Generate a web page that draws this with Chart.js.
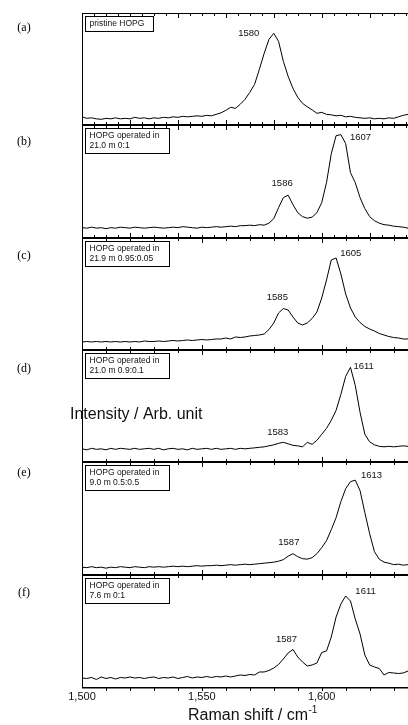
<!DOCTYPE html>
<html><head><meta charset="utf-8">
<style>html,body{margin:0;padding:0;background:#fff;overflow:hidden}canvas{display:block}</style>
<script src="https://cdn.jsdelivr.net/npm/chart.js@4.4.1/dist/chart.umd.min.js"></script>
</head><body>
<canvas id="c" width="408" height="725"></canvas>
<script>
// ---------- DATA ----------
const ramanShift = [1500,1502,1504,1506,1508,1510,1512,1514,1516,1518,
  1520,1522,1524,1526,1528,1530,1532,1534,1536,1538,
  1540,1542,1544,1546,1548,1550,1552,1554,1556,1558,
  1560,1562,1564,1566,1568,1570,1572,1574,1576,1578,
  1580,1582,1584,1586,1588,1590,1592,1594,1596,1598,
  1600,1602,1604,1606,1608,1610,1612,1614,1616,1618,
  1620,1622,1624,1626,1628,1630,1632,1634,1636];
const panelA = [8.5,7,7.5,6.5,6,7,6.5,7.5,6.5,7,
  6.5,8,7,7.5,6.5,7.5,7,8,7.5,8.5,
  8,9,8.5,9,9.5,9,10,9.5,11,12.5,
  15,18,17,21,26,33,41,56,72,86,
  92,84,64,49,37,28,22,18.5,15.5,12,
  13,11,10.5,9.5,10,8.5,9,8,7.5,7,
  7.5,6.5,7,6.5,7.5,7,8.5,10,11];
const panelB = [10,9.5,10.5,9.5,10,9,10,9.5,10.5,10,
  9.5,10.5,10,9.5,10,10.5,10,9.5,10,10.5,
  10,11,10.5,10,9.5,10.5,10,10.5,11,10.5,
  11,11.5,11,12,12,12.5,12,13,12.5,14.5,
  19,30,40,42.5,33,25,21,19.5,20.5,25,
  35,55,84,102,103,94,65,55,40,29,
  21,17,14.5,13,12.5,11.5,11,10.5,9.5];
const panelC = [8,8.5,8,8.5,8,8.5,8,8.5,8,8.5,
  8,8.5,8,9,8.5,8.5,9,8.5,9,9.5,
  9,9.5,10,9.5,10,10.5,10,10.5,11,11,
  12,11,13,12.5,13,14,14.5,15,16,20.5,
  27,37,41.5,40,33,27,25,27,31.5,38,
  52,70,90,92,76,56,42,33,27.5,23.5,
  21,19,16.5,15,13.5,12.5,12,11,11];
const panelD = [13.5,12.5,14,13,13.5,12.5,14,13,14,13.5,
  13,14,13,13.5,14,13,14,12.5,13.5,14,
  13,13.5,12.5,14,13,13.5,14,13,14,13,
  13.5,14,13,14,13.5,14,14.5,15,15.5,16.5,
  17.5,19,20,18.5,17,16.5,15.5,20,18,22,
  28,34,42,52,68,86,95,77,50,28,
  20.5,17.5,16,15.5,16,15.5,16,16.5,16];
const panelE = [7.5,7,8,7,7.5,6.5,7.5,7,8,7.5,
  7,8,7.5,7,8,7.5,8,7.5,8,8.5,
  8,8.5,8,8.5,9,8.5,9,9,9.5,9,
  9.5,10,9.5,10,10.5,10,10.5,11,11.5,12,
  12.5,13.5,15,18.5,21,18,16,15.5,17,21,
  27,34,45,57,73,86,93,94.5,84,62,
  41,23,15.5,12.5,11.5,10,10.5,9.5,10];
const panelF = [9,8.5,9.5,7.5,10,8.5,9.5,8,9.5,9,
  10,9,9.5,8.5,9.5,10,8.5,9.5,9,10,
  8.5,9.5,10.5,9,10,9.5,10.5,9.5,10.5,10,
  11,10,11,12,11.5,12.5,12,15,15,16.5,
  19,22.5,28,34,37.5,30,25,21,22,24,
  34.5,36,50,70,83,91,86,68,53,32,
  22,20,18.5,12,14.5,14,13.5,14,16];
const panelLetters = ["(a)","(b)","(c)","(d)","(e)","(f)"];
const panelNotes = [["pristine HOPG"],
  ["HOPG operated in","21.0 m 0:1"],
  ["HOPG operated in","21.9 m 0.95:0.05"],
  ["HOPG operated in","21.0 m 0.9:0.1"],
  ["HOPG operated in","9.0 m 0.5:0.5"],
  ["HOPG operated in","7.6 m 0:1"]];
const peakLabels = [["1580"],["1607","1586"],["1605","1585"],["1611","1583"],["1613","1587"],["1611","1587"]];
const peakLabelAt = [[[1569.6,92]],[[1616.2,100.7],[1583.5,54.7]],[[1612.1,97],[1581.5,53]],
  [[1617.5,96],[1581.7,30]],[[1620.8,99],[1586.3,32]],[[1618.3,96],[1585.3,48]]];
const xTickValues = [1500,1550,1600];
const yTitle = "Intensity / Arb. unit";
const xTitle = "Raman shift / cm";
const xTitleSup = "-1";

// ---------- LAYOUT / STYLE ----------
const SANS = "'Liberation Sans', Arial, sans-serif";
const SERIF = "'Liberation Serif', 'Times New Roman', serif";
const series = [panelA,panelB,panelC,panelD,panelE,panelF];
const tickSpec = [{minor:5,major:20},{minor:5,major:20},{minor:10,major:50},{minor:10,major:50},{minor:10,major:50},{minor:10,major:50}];
const letterOffset = [15,17,18,19,11,18];
const PANEL_MAX = 112.33;

const scales = {
  x: {
    type:'linear', position:'bottom', min:1500, max:1636,
    afterBuildTicks: s => { s.ticks = xTickValues.map(v => ({value:v})); },
    afterFit: s => { s.height = 38; },
    grid:{display:false, drawTicks:false}, border:{display:false},
    ticks:{font:{family:SANS,size:11}, color:'#111', padding:3,
      callback: v => Number(v).toLocaleString('en-US')}
  }
};
series.forEach((s,i) => {
  scales['y'+i] = {type:'linear', position:'right', stack:'panels', stackWeight:1,
    min:0, max:PANEL_MAX, display:false};
});

const datasets = series.map((vals,i) => ({
  data: ramanShift.map((x,j) => ({x:x, y:vals[j]})),
  yAxisID:'y'+i, borderColor:'#000', borderWidth:1, pointRadius:0, fill:false, tension:0
}));

const decor = {
  id:'decor',
  afterDraw(chart){
    const ctx = chart.ctx, a = chart.chartArea, xs = chart.scales.x;
    ctx.save();
    ctx.fillStyle = '#000'; ctx.strokeStyle = '#000';
    const L = Math.round(a.left), R = Math.round(a.right);
    series.forEach((s,i) => {
      const sc = chart.scales['y'+i];
      const top = Math.round(sc.top), bot = Math.round(sc.bottom);
      // frame lines
      if (i === 0) ctx.fillRect(L, top, R-L, 1);
      else ctx.fillRect(L, top-1, R-L, 2);
      if (i === series.length-1) ctx.fillRect(L, bot, R-L, 1.5);
      // ticks
      const sp = tickSpec[i];
      for (let v = 1500 + sp.minor; v <= xs.max; v += sp.minor) {
        const px = Math.round(xs.getPixelForValue(v)) + 0.5;
        const len = (v % sp.major === 0) ? 5 : 3;
        ctx.lineWidth = 1;
        ctx.beginPath(); ctx.moveTo(px, top); ctx.lineTo(px, top+len); ctx.stroke();
        if (i < series.length-1) {
          ctx.beginPath(); ctx.moveTo(px, bot); ctx.lineTo(px, bot-len); ctx.stroke();
        }
      }
      if (i === series.length-1) {
        for (let v = 1510; v <= xs.max; v += 10) {
          const px = Math.round(xs.getPixelForValue(v)) + 0.5;
          ctx.beginPath(); ctx.moveTo(px, bot); ctx.lineTo(px, bot+4); ctx.stroke();
        }
      }
      // note box
      const notes = panelNotes[i];
      const bx = L + 3.5, by = top + 3.5;
      const bw = notes.length === 1 ? 68 : 84, bh = notes.length === 1 ? 15 : 25;
      ctx.fillStyle = '#fff'; ctx.fillRect(bx, by, bw, bh);
      ctx.lineWidth = 1; ctx.strokeRect(bx, by, bw, bh);
      ctx.fillStyle = '#111'; ctx.font = '8.5px ' + SANS; ctx.textBaseline = 'middle'; ctx.textAlign = 'left';
      notes.forEach((t,k) => ctx.fillText(t, bx + 4, by + 7.5 + k*10));
      // peak labels
      ctx.font = '9.5px ' + SANS; ctx.textAlign = 'center';
      peakLabels[i].forEach((t,k) => {
        const p = peakLabelAt[i][k];
        ctx.fillText(t, xs.getPixelForValue(p[0]), sc.getPixelForValue(p[1]));
      });
      // panel letter
      ctx.fillStyle = '#000'; ctx.font = '12px ' + SERIF;
      ctx.fillText(panelLetters[i], 24, top + letterOffset[i]);
    });
    // left axis
    ctx.fillStyle = '#000';
    ctx.fillRect(L, Math.round(a.top), 1, Math.round(a.bottom) - Math.round(a.top) + 1);
    // axis titles
    ctx.fillStyle = '#111'; ctx.textAlign = 'left'; ctx.textBaseline = 'alphabetic';
    ctx.font = '16px ' + SANS;
    ctx.fillText(yTitle, 70, 419);
    ctx.fillText(xTitle, 188, 720);
    const w = ctx.measureText(xTitle).width;
    ctx.font = '10px ' + SANS;
    ctx.fillText(xTitleSup, 188 + w + 0.5, 713);
    ctx.restore();
  }
};

new Chart(document.getElementById('c'), {
  type:'line',
  data:{datasets:datasets},
  options:{
    responsive:false, animation:false, devicePixelRatio:1,
    layout:{padding:{left:82, top:13, right:0, bottom:0}},
    plugins:{legend:{display:false}, tooltip:{enabled:false}},
    scales:scales
  },
  plugins:[decor]
});
</script>
</body></html>
